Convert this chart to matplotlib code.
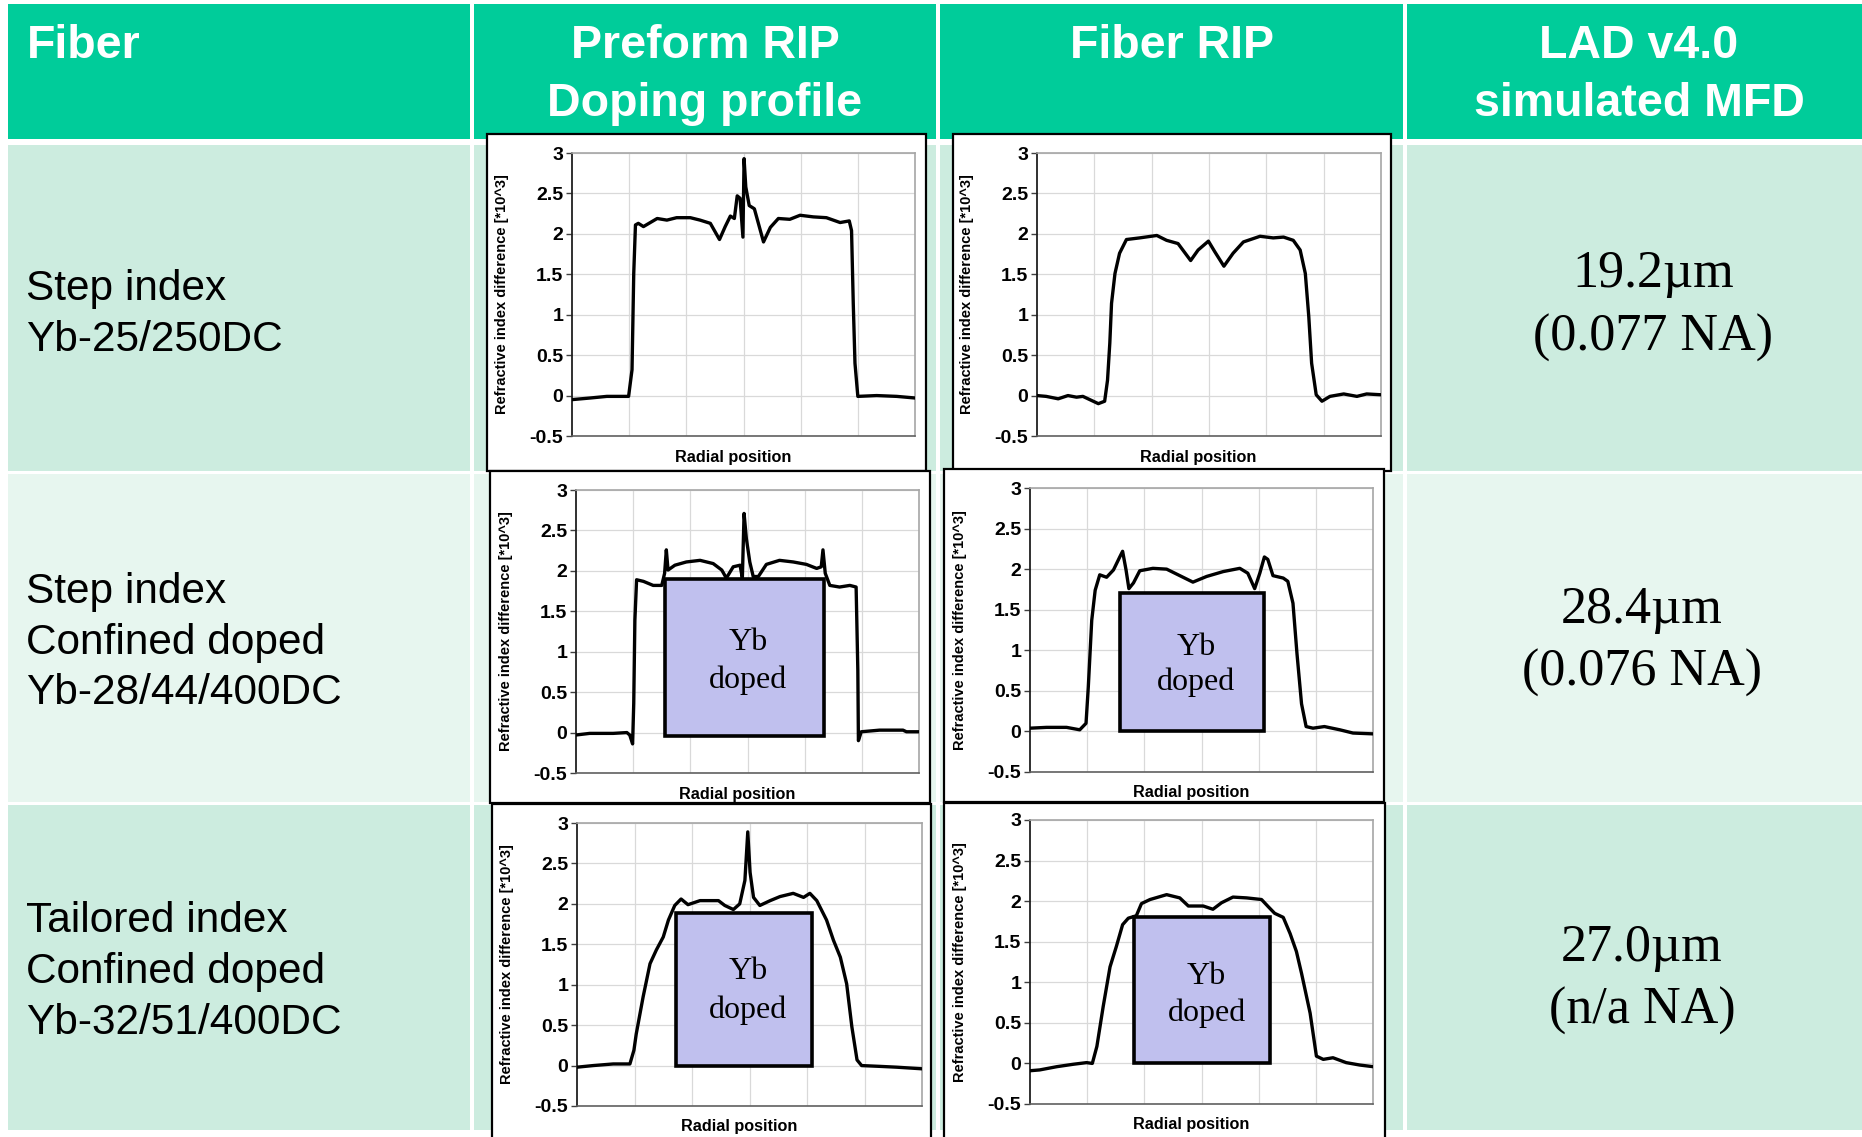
import matplotlib
matplotlib.use("Agg")
import matplotlib.pyplot as plt
from matplotlib.patches import Rectangle
from matplotlib.ticker import FuncFormatter
import numpy as np

W, H = 1862, 1137

# ---- table text ----
headers = ["Fiber", "Preform RIP\nDoping profile", "Fiber RIP", "LAD v4.0\nsimulated MFD"]
fiber_names = [
    ["Step index", "Yb-25/250DC"],
    ["Step index", "Confined doped", "Yb-28/44/400DC"],
    ["Tailored index", "Confined doped", "Yb-32/51/400DC"],
]
mfd = ["19.2\u00b5m", "28.4\u00b5m", "27.0\u00b5m"]
na = ["(0.077 NA)", "(0.076 NA)", "(n/a NA)"]

# ---- refractive index profiles (radial position in grid units 0..6, dn in 1e-3) ----
r1_pre_x = [0, 0.32, 0.61, 0.84, 0.99, 1.05, 1.08, 1.11, 1.16, 1.25, 1.49, 1.66, 1.83, 2.07,
            2.24, 2.42, 2.58, 2.68, 2.77, 2.84, 2.89, 2.94, 2.99, 3.01, 3.04, 3.10, 3.19, 3.35,
            3.47, 3.61, 3.81, 3.99, 4.22, 4.45, 4.69, 4.85, 4.89, 4.92, 4.95, 5.0, 5.33, 5.68, 6.0]
r1_pre_y = [-0.05, -0.03, -0.01, -0.01, -0.01, 0.32, 1.51, 2.11, 2.13, 2.09, 2.19, 2.17, 2.20, 2.20,
            2.17, 2.13, 1.93, 2.09, 2.22, 2.19, 2.47, 2.44, 1.96, 2.93, 2.58, 2.35, 2.31, 1.90,
            2.08, 2.19, 2.18, 2.23, 2.21, 2.20, 2.14, 2.16, 2.04, 1.14, 0.40, -0.01, 0.0, -0.01, -0.03]

r1_fib_x = [0, 0.16, 0.37, 0.54, 0.69, 0.80, 0.95, 1.07, 1.18, 1.23, 1.27, 1.30, 1.36, 1.44, 1.56,
            1.79, 2.09, 2.26, 2.46, 2.68, 2.81, 2.99, 3.10, 3.26, 3.42, 3.60, 3.89, 4.12, 4.30, 4.47,
            4.59, 4.68, 4.74, 4.79, 4.87, 4.97, 5.11, 5.35, 5.58, 5.75, 6.0]
r1_fib_y = [0.0, -0.01, -0.04, 0.0, -0.02, -0.01, -0.06, -0.10, -0.07, 0.19, 0.65, 1.14, 1.51, 1.76, 1.93,
            1.95, 1.98, 1.92, 1.88, 1.67, 1.80, 1.91, 1.78, 1.60, 1.76, 1.90, 1.97, 1.95, 1.96, 1.92,
            1.80, 1.51, 0.98, 0.40, 0.01, -0.07, -0.01, 0.02, -0.01, 0.02, 0.01]

r2_pre_x = [0, 0.24, 0.65, 0.89, 0.94, 0.99, 1.01, 1.03, 1.06, 1.18, 1.35, 1.50, 1.55, 1.58, 1.61,
            1.73, 1.93, 2.17, 2.40, 2.55, 2.63, 2.75, 2.87, 2.91, 2.94, 2.98, 3.04, 3.10, 3.19, 3.33,
            3.56, 3.80, 4.03, 4.21, 4.29, 4.32, 4.36, 4.44, 4.61, 4.79, 4.90, 4.93, 4.94, 4.99, 5.31,
            5.72, 5.78, 6.0]
r2_pre_y = [-0.03, -0.01, -0.01, 0.0, -0.03, -0.14, 0.36, 1.39, 1.89, 1.87, 1.82, 1.82, 1.97, 2.26, 2.01,
            2.07, 2.11, 2.13, 2.09, 2.01, 1.91, 2.05, 2.07, 1.91, 2.71, 2.40, 2.11, 1.93, 1.93, 2.08,
            2.13, 2.11, 2.08, 2.03, 2.05, 2.26, 1.97, 1.82, 1.80, 1.82, 1.80, 0.77, -0.10, 0.01, 0.03,
            0.03, 0.01, 0.01]

r2_fib_x = [0, 0.29, 0.64, 0.87, 0.98, 1.02, 1.08, 1.14, 1.22, 1.34, 1.46, 1.57, 1.62, 1.68, 1.73,
            1.81, 1.92, 2.15, 2.39, 2.62, 2.85, 3.09, 3.38, 3.67, 3.81, 3.93, 4.02, 4.10, 4.16, 4.25,
            4.43, 4.51, 4.60, 4.67, 4.75, 4.83, 4.95, 5.15, 5.42, 5.65, 6.0]
r2_fib_y = [0.04, 0.05, 0.05, 0.02, 0.10, 0.55, 1.37, 1.74, 1.93, 1.90, 1.99, 2.15, 2.22, 1.99, 1.76,
            1.83, 1.98, 2.01, 2.00, 1.92, 1.84, 1.91, 1.97, 2.01, 1.95, 1.76, 1.95, 2.15, 2.12, 1.92,
            1.89, 1.85, 1.58, 0.96, 0.34, 0.06, 0.04, 0.06, 0.02, -0.02, -0.03]

r3_pre_x = [0, 0.28, 0.63, 0.92, 0.99, 1.03, 1.15, 1.27, 1.38, 1.50, 1.59, 1.70, 1.81, 1.93, 2.14,
            2.46, 2.57, 2.72, 2.83, 2.92, 2.97, 3.01, 3.07, 3.18, 3.36, 3.53, 3.76, 3.94, 4.05, 4.17,
            4.34, 4.46, 4.58, 4.69, 4.78, 4.87, 4.95, 5.27, 5.56, 6.0]
r3_pre_y = [-0.02, 0.0, 0.02, 0.02, 0.19, 0.39, 0.85, 1.26, 1.43, 1.59, 1.80, 1.98, 2.06, 1.99, 2.04,
            2.04, 1.98, 1.93, 2.00, 2.29, 2.89, 2.39, 2.08, 1.98, 2.04, 2.09, 2.13, 2.08, 2.13, 2.04,
            1.80, 1.55, 1.34, 1.01, 0.48, 0.07, 0.0, -0.01, -0.02, -0.04]

r3_fib_x = [0, 0.17, 0.47, 0.76, 0.99, 1.09, 1.17, 1.28, 1.40, 1.51, 1.62, 1.72, 1.86, 1.95, 2.10,
            2.39, 2.62, 2.77, 3.03, 3.20, 3.35, 3.55, 3.79, 4.05, 4.17, 4.28, 4.43, 4.55, 4.66, 4.75,
            4.90, 5.01, 5.13, 5.30, 5.53, 5.77, 6.0]
r3_fib_y = [-0.09, -0.08, -0.04, -0.01, 0.01, 0.0, 0.21, 0.70, 1.19, 1.44, 1.71, 1.79, 1.82, 1.97, 2.02,
            2.08, 2.04, 1.94, 1.94, 1.90, 1.98, 2.05, 2.04, 2.02, 1.93, 1.85, 1.80, 1.60, 1.38, 1.11,
            0.62, 0.09, 0.05, 0.07, 0.01, -0.02, -0.04]

# Yb doped region boxes: (x0, x1, y0, y1), None for row 1
yb_boxes = [[None, None],
            [(1.555, 4.34, -0.04, 1.90), (1.58, 4.1, 0.0, 1.71)],
            [(1.72, 4.08, 0.0, 1.89), (1.82, 4.2, 0.0, 1.81)]]
yb_text_x = [[None, None], [3.01, 2.91], [2.98, 3.09]]
yb_text_y = [[None, None], [(1.12, 0.65), (1.04, 0.60)], [(1.16, 0.68), (1.07, 0.62)]]

profiles = [[(r1_pre_x, r1_pre_y), (r1_fib_x, r1_fib_y)],
            [(r2_pre_x, r2_pre_y), (r2_fib_x, r2_fib_y)],
            [(r3_pre_x, r3_pre_y), (r3_fib_x, r3_fib_y)]]

# ---- layout (pixels) ----
green = "#00CC9A"
row_bg = ["#CCECDF", "#E7F6EF", "#CCECDF"]
col_x = [(8, 470), (474, 936), (940, 1403), (1407, 1862)]
row_y = [(145, 471), (474, 802), (805, 1130)]
chart_boxes = [[(487, 926, 134, 471), (953, 1391, 134, 471)],
               [(490, 930, 471, 803), (944, 1384, 469, 802)],
               [(492, 931, 804, 1140), (944, 1385, 803, 1140)]]
plot_areas = [[(572, 915, 153, 436), (1037, 1381, 153, 436)],
              [(576, 919, 490, 773), (1030, 1373, 488, 772)],
              [(577, 922, 823, 1106), (1030, 1373, 820, 1104)]]

fig = plt.figure(figsize=(W / 100, H / 100), dpi=100)
bg = fig.add_axes([0, 0, 1, 1])
bg.set_xlim(0, W)
bg.set_ylim(H, 0)
bg.axis("off")

sans = "Liberation Sans"
serif = "Liberation Serif"

# header
for (x0, x1) in col_x:
    bg.add_patch(Rectangle((x0, 4), x1 - x0, 135, facecolor=green, edgecolor="none"))
bg.text(27, 46, headers[0], color="white", fontsize=33.5, fontweight="bold", family=sans,
        ha="left", va="center")
hdr_cx = [705, 1172, 1639]
for cx, txt in zip(hdr_cx, headers[1:]):
    lines = txt.split("\n")
    ys = [46] if len(lines) == 1 else [46, 104]
    for yy, ln in zip(ys, lines):
        bg.text(cx, yy, ln, color="white", fontsize=33.5, fontweight="bold", family=sans,
                ha="center", va="center")

# body cells
for ri, (y0, y1) in enumerate(row_y):
    for (x0, x1) in col_x:
        bg.add_patch(Rectangle((x0, y0), x1 - x0, y1 - y0, facecolor=row_bg[ri], edgecolor="none"))

name_y = [[289, 340], [592, 643, 693], [921, 972, 1023]]
for lines, ys in zip(fiber_names, name_y):
    for ln, yy in zip(lines, ys):
        bg.text(26, yy, ln, fontsize=30.5, family=sans, ha="left", va="center", color="black")

mfd_cx = [1653, 1642, 1642]
mfd_y = [(274, 338), (610, 673), (948, 1011)]
for i in range(3):
    bg.text(mfd_cx[i], mfd_y[i][0], mfd[i], fontsize=37.5, family=serif, ha="center", va="center")
    bg.text(mfd_cx[i], mfd_y[i][1], na[i], fontsize=37.5, family=serif, ha="center", va="center")

# chart frames
for ri in range(3):
    for ci in range(2):
        x0, x1, y0, y1 = chart_boxes[ri][ci]
        bg.add_patch(Rectangle((x0, y0), x1 - x0, y1 - y0, facecolor="white",
                               edgecolor="black", lw=1.6))

fmt = FuncFormatter(lambda v, p: "%g" % v)
for ri in range(3):
    for ci in range(2):
        l, r, t, b = plot_areas[ri][ci]
        ax = fig.add_axes([l / W, 1 - b / H, (r - l) / W, (b - t) / H])
        ax.set_facecolor("white")
        xs, ys = profiles[ri][ci]
        ax.plot(xs, ys, color="black", lw=2.4, solid_joinstyle="round", zorder=3)
        box = yb_boxes[ri][ci]
        if box is not None:
            bx0, bx1, by0, by1 = box
            ax.add_patch(Rectangle((bx0, by0), bx1 - bx0, by1 - by0, facecolor="#C0C0EE",
                                   edgecolor="black", lw=2.6, zorder=4))
            tx = yb_text_x[ri][ci]
            ty1, ty2 = yb_text_y[ri][ci]
            ax.text(tx, ty1, "Yb", fontsize=23, family=serif, ha="center", va="center", zorder=5)
            ax.text(tx, ty2, "doped", fontsize=23, family=serif, ha="center", va="center", zorder=5)
        ax.set_xlim(0, 6)
        ax.set_ylim(-0.5, 3)
        ax.set_xticks(np.arange(1, 6))
        ax.set_yticks(np.arange(-0.5, 3.01, 0.5))
        ax.yaxis.set_major_formatter(fmt)
        ax.tick_params(axis="x", length=0, labelbottom=False)
        ax.tick_params(axis="y", length=4.3, width=1.0, pad=2, labelsize=14, color="#404040")
        for lab in ax.get_yticklabels():
            lab.set_fontweight("bold")
            lab.set_family(sans)
        ax.grid(True, color="#D9D9D9", lw=0.9, zorder=0)
        ax.set_axisbelow(True)
        ax.spines["left"].set_color("#202020")
        ax.spines["left"].set_linewidth(1.3)
        ax.spines["bottom"].set_color("#606060")
        ax.spines["bottom"].set_linewidth(1.2)
        for side in ("top", "right"):
            ax.spines[side].set_color("#A6A6A6")
            ax.spines[side].set_linewidth(1.2)
        ax.set_xlabel("Radial position", fontsize=11.7, fontweight="bold", family=sans)
        ax.xaxis.set_label_coords(0.47, -21.0 / (b - t))
        ax.xaxis.label.set_va("center")
        ax.set_ylabel("Refractive index difference [*10^3]", fontsize=10.5, fontweight="bold",
                      family=sans)
        ax.yaxis.set_label_coords(-63.0 / (r - l), 0.5)

fig.savefig("out.png", dpi=100)
